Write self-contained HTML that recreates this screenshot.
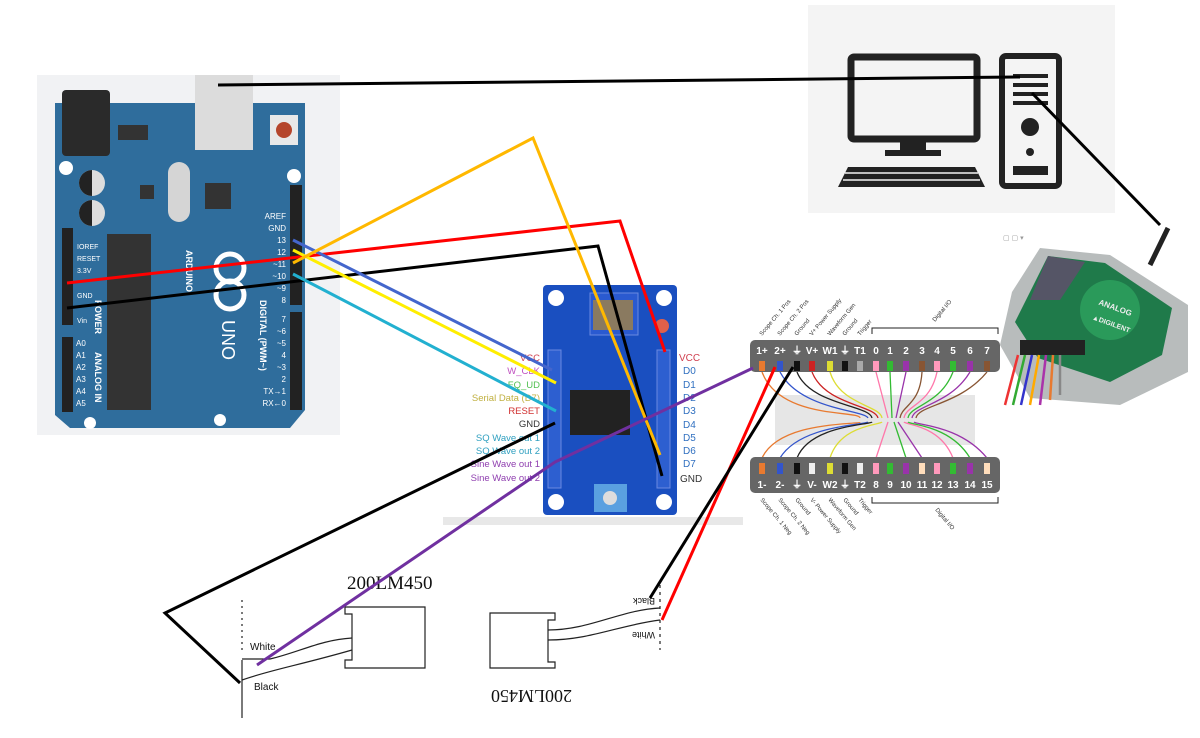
<!DOCTYPE html>
<html><head><meta charset="utf-8"><style>
html,body{margin:0;padding:0;background:#fff;}
svg{display:block}
text{font-family:"Liberation Sans",sans-serif}
.serif{font-family:"Liberation Serif",serif}
</style></head><body>
<svg width="1200" height="738" viewBox="0 0 1200 738" xmlns="http://www.w3.org/2000/svg">
<!-- Arduino -->
<rect x="37" y="75" width="303" height="360" fill="#f1f2f4"/>
<path d="M55 103 H305 V410 L290 428 H70 L55 415 Z" fill="#2f6d9c"/>
<rect x="62" y="90" width="48" height="66" rx="4" fill="#2a2a2a"/>
<rect x="195" y="75" width="58" height="75" fill="#dcdcdc"/>
<rect x="270" y="115" width="28" height="30" fill="#e8e8e8"/><circle cx="284" cy="130" r="8" fill="#b5452b"/>
<rect x="118" y="125" width="30" height="15" fill="#333"/>
<rect x="168" y="162" width="22" height="60" rx="11" fill="#d5d5d5"/>
<circle cx="92" cy="183" r="13" fill="#ddd"/><path d="M92 170 A13 13 0 0 0 92 196Z" fill="#222"/>
<circle cx="92" cy="213" r="13" fill="#ddd"/><path d="M92 200 A13 13 0 0 0 92 226Z" fill="#222"/>
<rect x="140" y="185" width="14" height="14" fill="#333"/><rect x="205" y="183" width="26" height="26" fill="#333"/>
<rect x="107" y="234" width="44" height="176" fill="#333"/>
<rect x="62" y="228" width="11" height="97" fill="#222"/><rect x="62" y="337" width="11" height="75" fill="#222"/>
<rect x="290" y="185" width="12" height="120" fill="#222"/><rect x="290" y="312" width="12" height="98" fill="#222"/>
<circle cx="66" cy="168" r="7" fill="#fff"/><circle cx="294" cy="176" r="7" fill="#fff"/><circle cx="90" cy="423" r="6" fill="#fff"/><circle cx="220" cy="420" r="6" fill="#fff"/>
<g fill="#fff" font-size="7"><text x="77" y="249">IOREF</text><text x="77" y="261">RESET</text><text x="77" y="273">3.3V</text><text x="77" y="298">GND</text><text x="77" y="323">Vin</text>
<text x="76" y="346" font-size="8">A0</text><text x="76" y="358" font-size="8">A1</text><text x="76" y="370" font-size="8">A2</text><text x="76" y="382" font-size="8">A3</text><text x="76" y="394" font-size="8">A4</text><text x="76" y="406" font-size="8">A5</text></g>
<g fill="#fff" font-size="8" text-anchor="end"><text x="286" y="219">AREF</text><text x="286" y="231">GND</text><text x="286" y="243">13</text><text x="286" y="255">12</text><text x="286" y="267">~11</text><text x="286" y="279">~10</text><text x="286" y="291">~9</text><text x="286" y="303">8</text>
<text x="286" y="322">7</text><text x="286" y="334">~6</text><text x="286" y="346">~5</text><text x="286" y="358">4</text><text x="286" y="370">~3</text><text x="286" y="382">2</text><text x="286" y="394">TX→1</text><text x="286" y="406">RX←0</text></g>
<text x="0" y="0" fill="#fff" font-size="9" font-weight="bold" transform="translate(186,250) rotate(90)">ARDUINO</text>
<text x="0" y="0" fill="#fff" font-size="18" transform="translate(222,320) rotate(90)">UNO</text>
<text x="0" y="0" fill="#fff" font-size="9" font-weight="bold" transform="translate(260,300) rotate(90)">DIGITAL (PWM~)</text>
<text x="0" y="0" fill="#fff" font-size="9" font-weight="bold" transform="translate(95,300) rotate(90)">POWER</text>
<text x="0" y="0" fill="#fff" font-size="9" font-weight="bold" transform="translate(95,352) rotate(90)">ANALOG IN</text>
<circle cx="230" cy="268" r="14" fill="none" stroke="#fff" stroke-width="5"/><circle cx="230" cy="295" r="14" fill="none" stroke="#fff" stroke-width="5"/>
<!-- computer -->
<rect x="808" y="5" width="307" height="208" fill="#f4f4f4"/>
<rect x="851" y="57" width="126" height="82" rx="3" fill="none" stroke="#222" stroke-width="7"/>
<rect x="900" y="140" width="26" height="12" fill="#222"/><rect x="885" y="150" width="56" height="6" fill="#222"/>
<path d="M848 167 H975 L985 187 H838 Z" fill="#222"/>
<g stroke="#f4f4f4" stroke-width="1.5"><line x1="845" y1="173" x2="978" y2="173"/><line x1="843" y1="180" x2="980" y2="180"/></g>
<rect x="1002" y="56" width="57" height="130" rx="4" fill="none" stroke="#222" stroke-width="6"/>
<g stroke="#222" stroke-width="4"><line x1="1013" y1="76" x2="1048" y2="76"/><line x1="1013" y1="85" x2="1048" y2="85"/><line x1="1013" y1="94" x2="1048" y2="94"/><line x1="1013" y1="103" x2="1048" y2="103"/></g>
<circle cx="1030" cy="127" r="9" fill="#222"/><circle cx="1030" cy="152" r="4" fill="#222"/><rect x="1013" y="166" width="35" height="9" fill="#222"/>
<!-- AD2 -->
<path d="M1040 248 L1110 255 L1188 305 L1188 372 L1120 405 L1030 398 L1000 345 L1012 292 Z" fill="#b8bcbc"/>
<path d="M1048 256 L1105 263 L1172 308 L1162 355 L1110 382 L1038 358 L1015 322 Z" fill="#1f7a4a"/>
<path d="M1048 256 L1085 262 L1060 300 L1030 300 Z" fill="#556"/>
<circle cx="1110" cy="310" r="30" fill="#2a9a5a"/>
<text x="1098" y="305" fill="#eee" font-size="8" font-weight="bold" transform="rotate(20 1100 305)">ANALOG</text>
<text x="1092" y="322" fill="#eee" font-size="7" font-weight="bold" transform="rotate(20 1100 320)">▲DIGILENT</text>
<rect x="1020" y="340" width="65" height="15" fill="#222"/>
<g stroke-width="2.5"><line x1="1018" y1="355" x2="1005" y2="405" stroke="#e33"/><line x1="1025" y1="355" x2="1013" y2="405" stroke="#3a3"/><line x1="1032" y1="355" x2="1021" y2="405" stroke="#33c"/><line x1="1039" y1="355" x2="1030" y2="405" stroke="#fa0"/><line x1="1046" y1="355" x2="1040" y2="405" stroke="#a3a"/><line x1="1053" y1="355" x2="1050" y2="400" stroke="#e87a30"/><line x1="1060" y1="355" x2="1060" y2="395" stroke="#888"/></g>
<path d="M1168 228 L1150 265" stroke="#222" stroke-width="5"/>
<text x="1003" y="240" font-size="7" fill="#999">▢ ▢ ▾</text>
<!-- AD9850 module -->
<rect x="443" y="517" width="300" height="8" fill="#e8e8e8"/>
<rect x="543" y="285" width="134" height="230" rx="4" fill="#1a4fc0"/>
<circle cx="556" cy="298" r="8" fill="#fff"/><circle cx="664" cy="298" r="8" fill="#fff"/><circle cx="556" cy="502" r="8" fill="#fff"/><circle cx="664" cy="502" r="8" fill="#fff"/>
<rect x="590" y="293" width="48" height="42" fill="#2a5ad0" stroke="#6a8ae0"/>
<rect x="593" y="300" width="40" height="30" fill="#8a7a60"/><circle cx="662" cy="326" r="7" fill="#e0604a"/>
<rect x="570" y="390" width="60" height="45" fill="#222"/>
<rect x="594" y="484" width="33" height="28" fill="#5aa0e0"/><circle cx="610" cy="498" r="7" fill="#ddd"/>
<rect x="548" y="350" width="13" height="138" fill="#2d5fd0" stroke="#6a8ae0"/>
<rect x="657" y="350" width="13" height="138" fill="#2d5fd0" stroke="#6a8ae0"/>
<g font-size="9.5" text-anchor="end"><text x="540" y="361" fill="#d04050">VCC</text><text x="540" y="374" fill="#c050c0">W_CLK</text><text x="540" y="388" fill="#50c050">FQ_UD</text><text x="540" y="401" fill="#c0b040">Serial Data (D7)</text><text x="540" y="414" fill="#d03030">RESET</text><text x="540" y="427" fill="#333">GND</text><text x="540" y="441" fill="#30a0c0">SQ Wave out 1</text><text x="540" y="454" fill="#30a0c0">SQ Wave out 2</text><text x="540" y="467" fill="#9040b0">Sine Wave out 1</text><text x="540" y="481" fill="#9040b0">Sine Wave out 2</text></g>
<g font-size="10"><text x="679" y="361" fill="#d04050">VCC</text><g fill="#3070c0"><text x="683" y="374">D0</text><text x="683" y="388">D1</text><text x="683" y="401">D2</text><text x="683" y="414">D3</text><text x="683" y="428">D4</text><text x="683" y="441">D5</text><text x="683" y="454">D6</text><text x="683" y="467">D7</text></g><text x="680" y="482" fill="#333">GND</text></g>
<!-- pinout -->
<rect x="775" y="395" width="200" height="50" fill="#e6e6e6"/>
<g stroke-width="1.3" fill="none"><path d="M762 372 C780 420 860 410 860 418" stroke="#e87a30"/><path d="M780 372 C800 410 865 410 868 418" stroke="#3355cc"/><path d="M797 372 C810 405 870 405 872 418" stroke="#222"/><path d="M812 372 C825 405 875 405 878 418" stroke="#c22"/><path d="M830 372 C840 405 880 405 882 418" stroke="#dd3"/><path d="M876 372 L888 418" stroke="#f7a"/><path d="M890 372 L892 418" stroke="#3b3"/><path d="M906 372 L896 418" stroke="#93a"/><path d="M922 372 C920 405 902 405 900 418" stroke="#853"/><path d="M937 372 C930 405 906 405 904 418" stroke="#f7a"/><path d="M953 372 C940 405 910 405 908 418" stroke="#3b3"/><path d="M970 372 C950 405 914 405 912 418" stroke="#93a"/><path d="M987 372 C960 405 918 405 916 418" stroke="#853"/>
<path d="M762 458 C780 420 860 425 860 422" stroke="#e87a30"/><path d="M780 458 C800 425 865 425 868 422" stroke="#3355cc"/><path d="M797 458 C810 425 870 425 872 422" stroke="#222"/><path d="M830 458 C840 425 880 425 882 422" stroke="#dd3"/><path d="M876 458 L888 422" stroke="#f7a"/><path d="M906 458 L894 422" stroke="#3b3"/><path d="M922 458 L898 422" stroke="#93a"/><path d="M953 458 C940 425 906 425 904 422" stroke="#f7a"/><path d="M970 458 C950 425 910 425 908 422" stroke="#3b3"/><path d="M987 458 C960 425 916 425 914 422" stroke="#93a"/></g>
<rect x="750" y="340" width="250" height="32" rx="5" fill="#666"/>
<rect x="750" y="457" width="250" height="36" rx="5" fill="#666"/>
<g fill="#fff" font-size="10" font-weight="bold" text-anchor="middle"><text x="762" y="354">1+</text><text x="780" y="354">2+</text><text x="797" y="354">⏚</text><text x="812" y="354">V+</text><text x="830" y="354">W1</text><text x="845" y="354">⏚</text><text x="860" y="354">T1</text><text x="876" y="354">0</text><text x="890" y="354">1</text><text x="906" y="354">2</text><text x="922" y="354">3</text><text x="937" y="354">4</text><text x="953" y="354">5</text><text x="970" y="354">6</text><text x="987" y="354">7</text>
<text x="762" y="488">1-</text><text x="780" y="488">2-</text><text x="797" y="488">⏚</text><text x="812" y="488">V-</text><text x="830" y="488">W2</text><text x="845" y="488">⏚</text><text x="860" y="488">T2</text><text x="876" y="488">8</text><text x="890" y="488">9</text><text x="906" y="488">10</text><text x="922" y="488">11</text><text x="937" y="488">12</text><text x="953" y="488">13</text><text x="970" y="488">14</text><text x="987" y="488">15</text></g>
<g><rect x="759" y="361" width="6" height="10" fill="#e87a30"/><rect x="777" y="361" width="6" height="10" fill="#3355cc"/><rect x="794" y="361" width="6" height="10" fill="#111"/><rect x="809" y="361" width="6" height="10" fill="#c22"/><rect x="827" y="361" width="6" height="10" fill="#dd3"/><rect x="842" y="361" width="6" height="10" fill="#111"/><rect x="857" y="361" width="6" height="10" fill="#aaa"/><rect x="873" y="361" width="6" height="10" fill="#f9b"/><rect x="887" y="361" width="6" height="10" fill="#3b3"/><rect x="903" y="361" width="6" height="10" fill="#93a"/><rect x="919" y="361" width="6" height="10" fill="#853"/><rect x="934" y="361" width="6" height="10" fill="#f9b"/><rect x="950" y="361" width="6" height="10" fill="#3b3"/><rect x="967" y="361" width="6" height="10" fill="#93a"/><rect x="984" y="361" width="6" height="10" fill="#853"/>
<rect x="759" y="463" width="6" height="11" fill="#e87a30"/><rect x="777" y="463" width="6" height="11" fill="#3355cc"/><rect x="794" y="463" width="6" height="11" fill="#111"/><rect x="809" y="463" width="6" height="11" fill="#eee"/><rect x="827" y="463" width="6" height="11" fill="#dd3"/><rect x="842" y="463" width="6" height="11" fill="#111"/><rect x="857" y="463" width="6" height="11" fill="#eee"/><rect x="873" y="463" width="6" height="11" fill="#f9b"/><rect x="887" y="463" width="6" height="11" fill="#3b3"/><rect x="903" y="463" width="6" height="11" fill="#93a"/><rect x="919" y="463" width="6" height="11" fill="#fdb"/><rect x="934" y="463" width="6" height="11" fill="#f9b"/><rect x="950" y="463" width="6" height="11" fill="#3b3"/><rect x="967" y="463" width="6" height="11" fill="#93a"/><rect x="984" y="463" width="6" height="11" fill="#fdb"/></g>
<g font-size="6" fill="#333"><text transform="translate(762,336) rotate(-50)">Scope Ch. 1 Pos</text><text transform="translate(780,336) rotate(-50)">Scope Ch. 2 Pos</text><text transform="translate(797,336) rotate(-50)">Ground</text><text transform="translate(812,336) rotate(-50)">V+ Power Supply</text><text transform="translate(830,336) rotate(-50)">Waveform Gen</text><text transform="translate(845,336) rotate(-50)">Ground</text><text transform="translate(860,336) rotate(-50)">Trigger</text><text transform="translate(935,322) rotate(-50)">Digital I/O</text>
<text transform="translate(760,500) rotate(50)">Scope Ch. 1 Neg</text><text transform="translate(778,500) rotate(50)">Scope Ch. 2 Neg</text><text transform="translate(795,500) rotate(50)">Ground</text><text transform="translate(810,500) rotate(50)">V- Power Supply</text><text transform="translate(828,500) rotate(50)">Waveform Gen</text><text transform="translate(843,500) rotate(50)">Ground</text><text transform="translate(858,500) rotate(50)">Trigger</text><text transform="translate(935,510) rotate(50)">Digital I/O</text></g>
<path d="M872 334 V328 H998 V334" fill="none" stroke="#222"/><path d="M872 497 V503 H998 V497" fill="none" stroke="#222"/>
<!-- transducers -->
<g fill="none" stroke="#222" stroke-width="1.2">
<line x1="242" y1="660" x2="242" y2="718"/><line x1="242" y1="600" x2="242" y2="650" stroke-dasharray="2 4"/>
<path d="M242 659 H270 C300 652 320 640 352 638"/><path d="M242 680 C270 670 300 665 352 650"/>
<path d="M345 607 H425 V668 H345 V660 H352 V614 H345 Z"/>
<path d="M490 613 H555 V620 H548 V662 H555 V668 H490 Z"/>
<path d="M548 630 C590 630 620 610 660 608"/><path d="M548 640 C590 640 620 625 660 620"/>
<line x1="660" y1="585" x2="660" y2="650" stroke-dasharray="3 4"/>
</g>
<text x="347" y="589" class="serif" font-size="19" fill="#111">200LM450</text>
<text x="250" y="650" font-size="10" fill="#111">White</text><text x="254" y="690" font-size="10" fill="#111">Black</text>
<text transform="translate(572,690) rotate(180)" class="serif" font-size="18" fill="#111">200LM450</text>
<text transform="translate(655,598) rotate(180)" font-size="9" fill="#111">Black</text><text transform="translate(655,632) rotate(180)" font-size="9" fill="#111">White</text>
<!-- wires -->
<g fill="none" stroke-width="3" stroke-linejoin="miter">
<polyline points="218,85 1020,77" stroke="#000"/>
<polyline points="1032,93 1160,225" stroke="#000"/>
<polyline points="67,283 620,221 665,352" stroke="#f00"/>
<polyline points="67,308 598,246 662,476" stroke="#000"/>
<polyline points="293,240 552,370" stroke="#4466cc"/>
<polyline points="293,250 556,383" stroke="#ffee00"/>
<polyline points="293,274 556,411" stroke="#22b0d0"/>
<polyline points="293,263 533,138 660,455" stroke="#ffb800"/>
<polyline points="555,423 165,613 240,683" stroke="#000"/>
<polyline points="753,368 555,462 257,665" stroke="#7030a0"/>
<polyline points="775,367 662,620" stroke="#f00"/>
<polyline points="793,367 650,598" stroke="#000"/>
</g>
</svg>
</body></html>
